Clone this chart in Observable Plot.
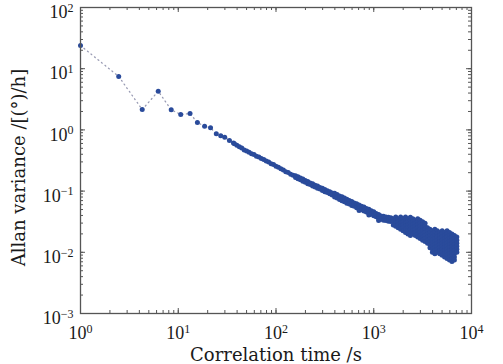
<!DOCTYPE html>
<html><head><meta charset="utf-8">
<script src="https://cdn.jsdelivr.net/npm/d3@7"></script>
<script src="https://cdn.jsdelivr.net/npm/@observablehq/plot@0.6"></script>
<style>body{margin:0;background:#fff}</style>
</head><body><div id="chart"></div>
<script>
// ---- data ----
const earlyTau   = [1, 2.46, 4.28, 6.24, 8.47, 10.6, 13.2, 15.7, 18.6, 21.4, 24.5, 27.2, 29.9, 33.4, 36.7];
const earlyAllan = [23.9, 7.46, 2.15, 4.28, 2.13, 1.79, 1.85, 1.32, 1.15, 1.08, 0.863, 0.80, 0.76, 0.67, 0.61];

const bandTau = [37.58, 39.81, 42.17, 44.67, 47.32, 50.12, 53.09, 56.23, 59.57, 63.10, 66.83, 70.79, 74.99, 79.43, 84.14, 89.13, 94.41, 100, 105.9, 112.2, 118.9, 125.9, 133.4, 141.3, 149.6,
  158.5, 167.9, 177.8, 188.4, 199.5, 211.3, 223.9, 237.1, 251.2, 266.1, 281.8, 298.5, 316.2, 335.0, 354.8, 375.8,
  398.1, 421.7, 446.7, 473.2, 501.2, 530.9, 562.3, 595.7, 631.0, 668.3, 707.9, 749.9, 794.3, 841.4, 891.3, 944.1, 1000, 1059, 1122, 1189, 1259, 1334, 1413, 1496];
const bandAllan = [
  [0.593],[0.561],[0.530],[0.505],[0.470],[0.451],[0.433],[0.409],[0.395],[0.372],[0.360],[0.340],[0.329],[0.310],[0.299],[0.281],[0.271],[0.254],[0.245],[0.231],[0.222],[0.208],[0.201],[0.189],[0.182],
  [0.179,0.167],[0.172,0.159],[0.163,0.153],[0.157,0.145],[0.149,0.140],[0.144,0.132],[0.136,0.128],[0.132,0.121],[0.125,0.117],[0.121,0.111],[0.115,0.108],[0.111,0.102],[0.106,0.0980],[0.101,0.0948],[0.0975,0.0902],[0.0930,0.0862],
  [0.0925,0.0800],[0.0880,0.0770],[0.0835,0.0728],[0.0805,0.0695],[0.0768,0.0670],[0.0735,0.0632],[0.0700,0.0615],[0.0676,0.0582],[0.0642,0.0565],[0.0620,0.0535],[0.0595,0.0512,0.0482],[0.0565,0.0497],[0.0548,0.0471],[0.0518,0.0456],[0.0503,0.0432,0.0405],[0.0476,0.0420],[0.0460,0.0396],[0.0432,0.0380],[0.0415,0.0358,0.0330],[0.0393,0.0346],[0.0388,0.0335],[0.0377,0.0332],[0.0374,0.0322],[0.0366,0.0318]
];

const clusterTau = [1585, 1679, 1778, 1884, 1995, 2113, 2239, 2371, 2512, 2661, 2818, 2985, 3162, 3350, 3548, 3758, 3981, 4217, 4467, 4732, 5012, 5309, 5623, 5957, 6310, 6683, 7079];
const clusterAllan = [
  [0.0355, 0.0318, 0.0280],
  [0.0376, 0.0335, 0.0299, 0.0266],
  [0.0352, 0.0316, 0.0283, 0.0251],
  [0.0378, 0.0335, 0.0297, 0.0266, 0.0237],
  [0.0357, 0.0316, 0.0282, 0.0250, 0.0224],
  [0.0376, 0.0333, 0.0299, 0.0268, 0.0237, 0.0211],
  [0.0355, 0.0316, 0.0280, 0.0251, 0.0225, 0.0200],
  [0.0374, 0.0335, 0.0299, 0.0266, 0.0237, 0.0210, 0.0188],
  [0.0355, 0.0318, 0.0282, 0.0251, 0.0224, 0.0199],
  [0.0335, 0.0298, 0.0266, 0.0238, 0.0211, 0.0188],
  [0.0352, 0.0316, 0.0282, 0.0251, 0.0223, 0.0200, 0.0178],
  [0.0335, 0.0299, 0.0266, 0.0237, 0.0212, 0.0188, 0.0168],
  [0.0316, 0.0283, 0.0251, 0.0224, 0.0200, 0.0177, 0.0158],
  [0.0299, 0.0266, 0.0237, 0.0211, 0.0189, 0.0168, 0.0150],
  [0.0251, 0.0224, 0.0200, 0.0178, 0.0158, 0.0141],
  [0.0237, 0.0211, 0.0188, 0.0168, 0.0150, 0.0133, 0.0119],
  [0.0224, 0.0200, 0.0178, 0.0159, 0.0141, 0.0126, 0.0112, 0.0100],
  [0.0237, 0.0211, 0.0188, 0.0168, 0.0150, 0.0133, 0.0119, 0.0106, 0.00944],
  [0.0224, 0.0200, 0.0178, 0.0158, 0.0141, 0.0126, 0.0112, 0.0100],
  [0.0211, 0.0188, 0.0168, 0.0150, 0.0133, 0.0119, 0.0106, 0.00944],
  [0.0224, 0.0200, 0.0178, 0.0158, 0.0141, 0.0126, 0.0112, 0.0100, 0.00891],
  [0.0211, 0.0188, 0.0168, 0.0150, 0.0133, 0.0119, 0.0106, 0.00944, 0.00841],
  [0.0224, 0.0200, 0.0178, 0.0158, 0.0141, 0.0126, 0.0112, 0.0100, 0.00891, 0.00794],
  [0.0211, 0.0188, 0.0168, 0.0150, 0.0133, 0.0119, 0.0106, 0.00944, 0.00841, 0.00750],
  [0.0200, 0.0178, 0.0158, 0.0141, 0.0126, 0.0112, 0.0100, 0.00891, 0.00794, 0.00708],
  [0.0188, 0.0168, 0.0150, 0.0133, 0.0119, 0.0106, 0.00944, 0.00841, 0.00750],
  [0.0178, 0.0158, 0.0141, 0.0126, 0.0112, 0.0100]
];

const xMajor = [1, 10, 100, 1000, 10000];
const xMajorLabels = ["10^0", "10^1", "10^2", "10^3", "10^4"];
const yMajor = [0.001, 0.01, 0.1, 1, 10, 100];
const yMajorLabels = ["10^\u22123", "10^\u22122", "10^\u22121", "10^0", "10^1", "10^2"];
const xTitle = "Correlation time /s";
const yTitle = "Allan variance /[(\u00B0)/h]";

// ---- build tables ----
const early = earlyTau.map((t, i) => ({tau: t, allan: earlyAllan[i]}));
const points = early.slice();
bandTau.forEach((t, i) => bandAllan[i].forEach(a => points.push({tau: t, allan: a})));
clusterTau.forEach((t, i) => clusterAllan[i].forEach(a => points.push({tau: t, allan: a})));

const W = 503, H = 364, mL = 80, mR = 32, mT = 7, mB = 51;
const plotW = W - mL - mR, plotH = H - mT - mB;
const xMinor = d3.scaleLog().domain([1, 1e4]).ticks();
const yMinor = d3.scaleLog().domain([1e-3, 1e2]).ticks();
const axisColor = "#555";
const titleFont = "'DejaVu Serif', serif";

const chart = Plot.plot({
  width: W, height: H,
  marginLeft: mL, marginRight: mR, marginTop: mT, marginBottom: mB,
  style: {fontFamily: "'Liberation Serif', 'Times New Roman', serif", fontSize: "18px", color: "#1a1a1a", background: "#fff", overflow: "visible"},
  x: {type: "log", domain: [1, 1e4]},
  y: {type: "log", domain: [1e-3, 1e2]},
  marks: [
    Plot.line(early, {x: "tau", y: "allan", stroke: "#9a9cb4", strokeWidth: 1.3, strokeDasharray: "1,3.5"}),
    Plot.dot(points, {x: "tau", y: "allan", r: 2.5, fill: "#2a4b9b"}),
    // inward ticks on all four sides
    Plot.tickX(xMinor, {x: d => d, insetTop: plotH - 3, stroke: axisColor}),
    Plot.tickX(xMinor, {x: d => d, insetBottom: plotH - 3, stroke: axisColor}),
    Plot.tickX(xMajor, {x: d => d, insetTop: plotH - 5, stroke: axisColor}),
    Plot.tickX(xMajor, {x: d => d, insetBottom: plotH - 5, stroke: axisColor}),
    Plot.tickY(yMinor, {y: d => d, insetRight: plotW - 3, stroke: axisColor}),
    Plot.tickY(yMinor, {y: d => d, insetLeft: plotW - 3, stroke: axisColor}),
    Plot.tickY(yMajor, {y: d => d, insetRight: plotW - 5, stroke: axisColor}),
    Plot.tickY(yMajor, {y: d => d, insetLeft: plotW - 5, stroke: axisColor}),
    Plot.frame({stroke: axisColor, strokeWidth: 1.3}),
    Plot.axisX(xMajor, {anchor: "bottom", tickSize: 0, tickPadding: 13, label: null,
      tickFormat: d => xMajorLabels[xMajor.indexOf(d)]}),
    Plot.axisY(yMajor, {anchor: "left", tickSize: 0, tickPadding: 7, dy: 5, label: null,
      tickFormat: d => yMajorLabels[yMajor.indexOf(d)]}),
    Plot.text([xTitle], {text: d => d, frameAnchor: "bottom", textAnchor: "middle", lineAnchor: "middle", dy: 42, fontSize: 18, fontFamily: titleFont}),
    Plot.text([yTitle], {text: d => d, frameAnchor: "left", textAnchor: "middle", lineAnchor: "middle", dx: -61, dy: 7, rotate: -90, fontSize: 18, fontFamily: titleFont})
  ]
});

// superscript exponents in the tick labels
d3.select(chart).selectAll("text").each(function () {
  const m = /^10\^(.+)$/.exec(this.textContent);
  if (m) {
    this.textContent = "10";
    d3.select(this).append("tspan").attr("dy", -6.5).attr("font-size", 12).text(m[1]);
  }
});

document.getElementById("chart").appendChild(chart);
</script>
</body></html>
